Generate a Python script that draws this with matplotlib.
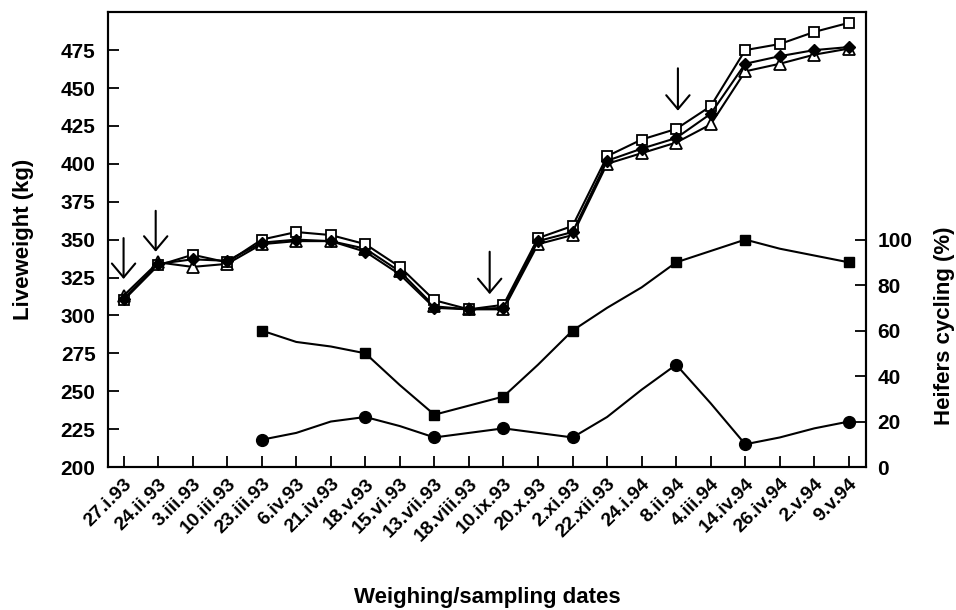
import numpy as np
import matplotlib.pyplot as plt

plt.rcParams['font.family'] = ['Liberation Sans', 'DejaVu Sans']
plt.rcParams['font.weight'] = 'bold'

dates = ["27.i.93", "24.ii.93", "3.iii.93", "10.iii.93", "23.iii.93", "6.iv.93",
         "21.iv.93", "18.v.93", "15.vi.93", "13.vii.93", "18.viii.93", "10.ix.93",
         "20.x.93", "2.xi.93", "22.xii.93", "24.i.94", "8.ii.94", "4.iii.94",
         "14.iv.94", "26.iv.94", "2.v.94", "9.v.94"]

# liveweight (kg), three groups
lw_square = [310, 333, 340, 335, 350, 355, 353, 347, 332, 310, 304, 307,
             351, 359, 405, 416, 423, 438, 475, 479, 487, 493]
lw_diamond = [311, 334, 337, 336, 348, 350, 349, 342, 327, 305, 304, 305,
              349, 355, 402, 410, 417, 433, 466, 471, 475, 477]
lw_triangle = [313, 335, 332, 334, 347, 349, 349, 344, 329, 306, 304, 304,
               347, 353, 400, 407, 414, 426, 461, 466, 472, 476]

# heifers cycling (%), from 23.iii.93 on
cyc_square = [60, 55, 53, 50, 36, 23, 27, 31, 45, 60, 70, 79, 90, 95,
              100, 96, 93, 90]
cyc_circle = [12, 15, 20, 22, 18, 13, 15, 17, 15, 13, 22, 34, 45, 28,
              10, 13, 17, 20]
cyc_start = 4
cyc_marked = [4, 7, 9, 11, 13, 16, 18, 21]   # sampling dates with markers

# arrows: (x position, top kg, tip kg)
arrows = [(0, 351, 324), (0.93, 369, 342), (10.6, 342, 314), (16.05, 463, 435)]

x = np.arange(len(dates))
fig = plt.figure(figsize=(9.56, 6.1), dpi=100)
ax = fig.add_axes([0.113, 0.2344, 0.793, 0.7456])
ax2 = ax.twinx()

lw = 1.5
ax.plot(x, lw_square, color='black', lw=lw, marker='s', ms=7, mfc='white',
        mec='black', mew=1.3, zorder=3)
ax.plot(x, lw_diamond, color='black', lw=lw, marker='D', ms=6, mfc='black',
        mec='black', zorder=4)
ax.plot(x, lw_triangle, color='black', lw=lw, marker='^', ms=8, mfc='white',
        mec='black', mew=1.3, zorder=2)

xc = x[cyc_start:]
m_idx = [i - cyc_start for i in cyc_marked]
ax2.plot(xc, cyc_square, color='black', lw=lw, marker='s', ms=7.5, mfc='black',
         markevery=m_idx)
ax2.plot(xc, cyc_circle, color='black', lw=lw, marker='o', ms=8.5, mfc='black',
         markevery=m_idx)

for ax_x, top, tip in arrows:
    ax.annotate("", xy=(ax_x, tip), xytext=(ax_x, top),
                arrowprops=dict(arrowstyle='->,head_length=0.5,head_width=0.42',
                                lw=1.5, color='black', mutation_scale=20,
                                shrinkA=0, shrinkB=0))

ax.set_xlim(-0.45, 21.5)
ax.set_ylim(200, 500)
ax.set_yticks(np.arange(200, 476, 25))
ax2.set_ylim(0, 200)
ax2.set_yticks(np.arange(0, 101, 20))

ax.set_xticks(x)
ax.set_xticklabels(dates, rotation=45, ha='right', rotation_mode='anchor',
                   fontsize=14, fontweight='bold')
for a in (ax, ax2):
    a.tick_params(direction='in', length=8, width=1.3, labelsize=15)
    for s in a.spines.values():
        s.set_linewidth(1.5)
ax.tick_params(axis='x', pad=6, labelsize=14)
ax.tick_params(axis='y', pad=9)
ax2.tick_params(axis='y', pad=8)

ax.set_ylabel("Liveweight (kg)", fontsize=16, fontweight='bold')
ax.yaxis.set_label_coords(-0.098, 0.5)
ax2.set_ylabel("Heifers cycling (%)", fontsize=16, fontweight='bold')
ax2.yaxis.set_label_coords(1.09, 0.31)
ax.set_xlabel("Weighing/sampling dates", fontsize=16, fontweight='bold',
              labelpad=30)

fig.savefig("out.png", dpi=100)
